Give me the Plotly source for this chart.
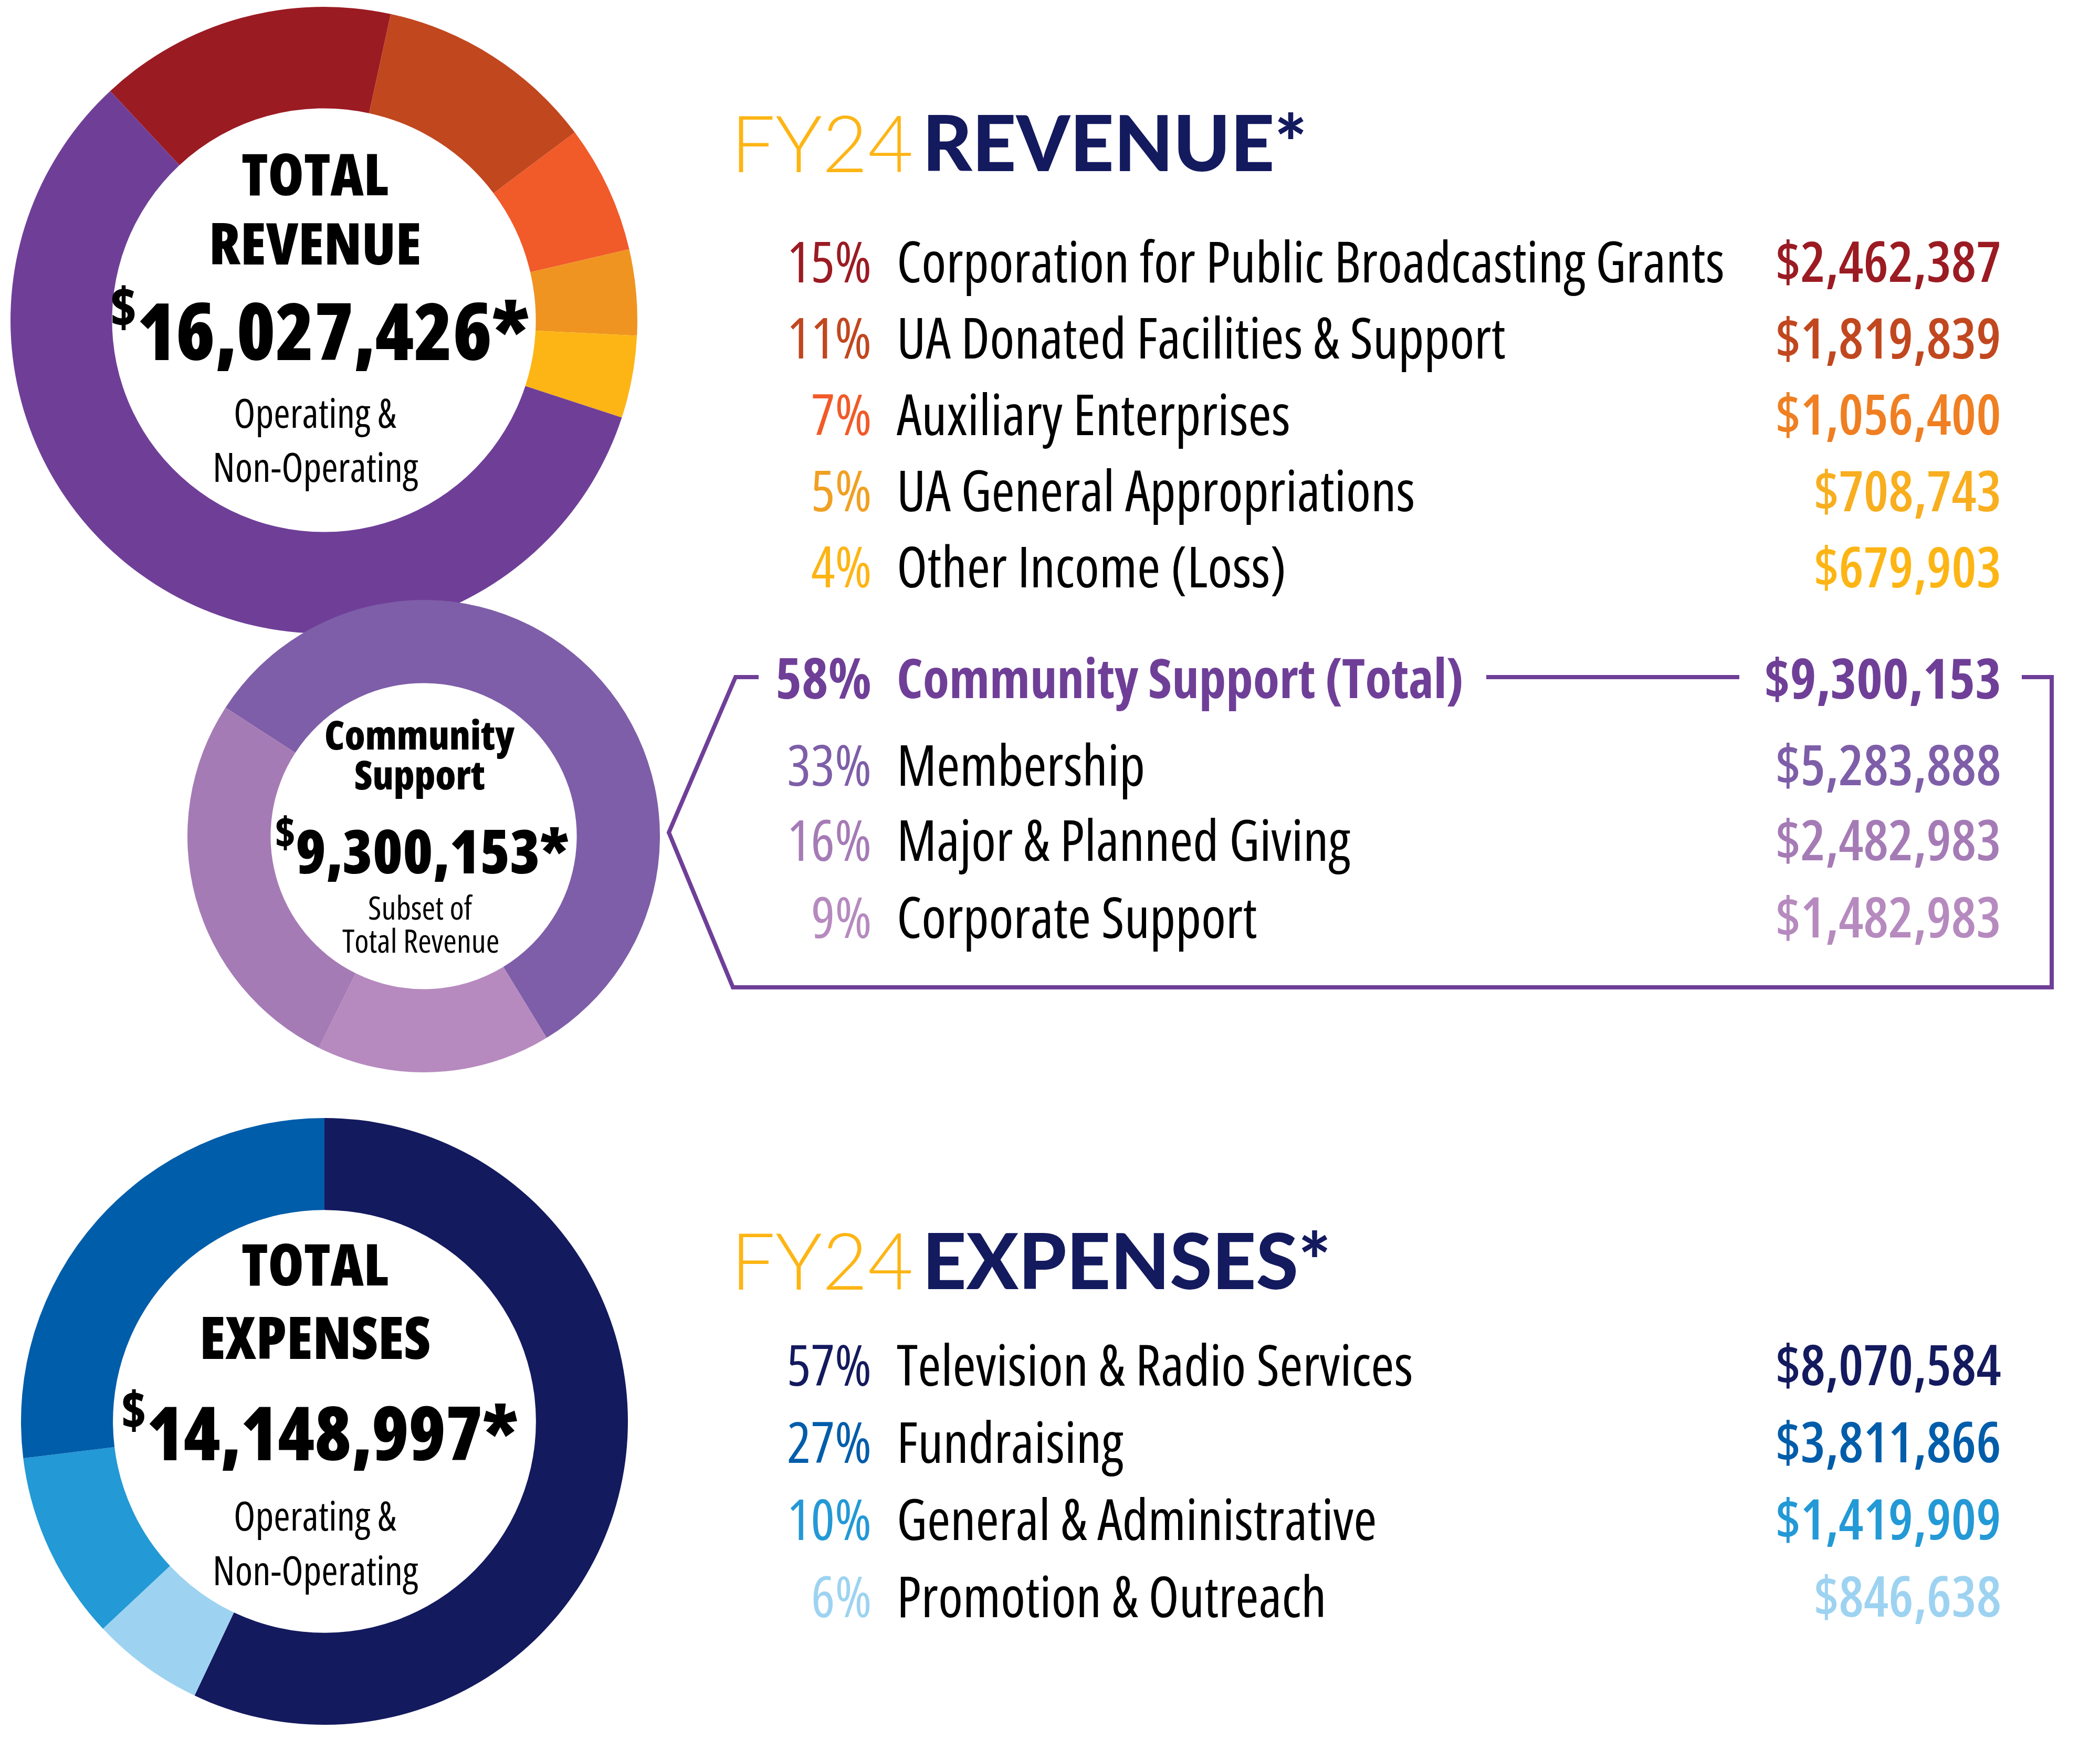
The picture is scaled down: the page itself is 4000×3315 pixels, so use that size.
import plotly.graph_objects as go

W, H = 4000, 3315

# ---------------- data ----------------
rev_labels = ["Corporation for Public Broadcasting Grants", "UA Donated Facilities & Support",
              "Auxiliary Enterprises", "UA General Appropriations", "Other Income (Loss)"]
rev_values = [2462387, 1819839, 1056400, 708743, 679903]
rev_pct = ["15%", "11%", "7%", "5%", "4%"]

community_label = "Community Support (Total)"
community_value = 9300153
community_pct = "58%"

comm_labels = ["Membership", "Major & Planned Giving", "Corporate Support"]
comm_values = [5283888, 2482983, 1482983]
comm_pct = ["33%", "16%", "9%"]

exp_labels = ["Television & Radio Services", "Fundraising", "General & Administrative", "Promotion & Outreach"]
exp_values = [8070584, 3811866, 1419909, 846638]
exp_pct = ["57%", "27%", "10%", "6%"]

total_revenue = 16027426
total_expenses = 14148997

# ---------------- styles ----------------
rev_colors = ["#9B1B23", "#C1471F", "#F15A29", "#EF9421", "#FDB515"]
rev_pct_colors = ["#9B1B23", "#C1471F", "#F15A29", "#F0A023", "#FDB515"]
rev_val_colors = ["#9B1B23", "#C1471F", "#EF7F22", "#F8AE1E", "#FDB515"]
community_color = "#6F3F98"
comm_colors = ["#7E5EA8", "#A57BB6", "#B68ABF"]
exp_colors = ["#141A5E", "#005DAA", "#2399D6", "#9DD3F1"]
NAVY = "#141A5E"
YELLOW = "#FDB515"

COND = "Open Sans, sans-serif"
WIDE = "Lato, Open Sans, sans-serif"


def px(x):
    return x / W


def py(y):
    return 1 - y / H


def money(v):
    return "$" + format(v, ",")


def dom(cx, cy, r):
    return dict(x=[px(cx - r), px(cx + r)], y=[py(cy + r), py(cy - r)])


fig = go.Figure()

# Revenue donut
fig.add_trace(go.Pie(
    values=rev_values + [community_value],
    labels=rev_labels + [community_label],
    marker=dict(colors=rev_colors + [community_color], line=dict(width=0)),
    sort=False, direction="clockwise", rotation=-43, hole=0.676,
    textinfo="none", hoverinfo="skip", domain=dom(609, 602, 597), showlegend=False,
))

# Community donut (clockwise: Membership, Corporate, Major)
order_c = [0, 2, 1]
fig.add_trace(go.Pie(
    values=[comm_values[i] for i in order_c],
    labels=[comm_labels[i] for i in order_c],
    marker=dict(colors=[comm_colors[i] for i in order_c], line=dict(width=0)),
    sort=False, direction="clockwise", rotation=-57, hole=0.648,
    textinfo="none", hoverinfo="skip", domain=dom(799, 1585, 450), showlegend=False,
))

# Expense donut (clockwise: TV, Promotion, General, Fundraising)
order_e = [0, 3, 2, 1]
fig.add_trace(go.Pie(
    values=[exp_values[i] for i in order_e],
    labels=[exp_labels[i] for i in order_e],
    marker=dict(colors=[exp_colors[i] for i in order_e], line=dict(width=0)),
    sort=False, direction="clockwise", rotation=0, hole=0.697,
    textinfo="none", hoverinfo="skip", domain=dom(610, 2700, 578), showlegend=False,
))

ann = []


def cond(t):
    return f"<span style='font-stretch:75%'>{t}</span>"


def text(x, y, t, size, color="black", anchor="left", family=COND, weight=400, condensed=True):
    ann.append(dict(x=px(x), y=py(y), xref="paper", yref="paper",
                    text=cond(t) if condensed else t, showarrow=False,
                    xanchor=anchor, yanchor="middle",
                    font=dict(size=size, color=color, family=family, weight=weight)))


PCT_X, LAB_X, VAL_X = 1654, 1698, 3806
ROW = 107
VROW = 106

# Titles
text(1382, 262, "FY24", 150, YELLOW, family="Lato, Roboto, sans-serif", weight=300, condensed=False)
text(1747, 262, "REVENUE*", 146, NAVY, family=WIDE, weight=900, condensed=False)
text(1382, 2391, "FY24", 150, YELLOW, family="Lato, Roboto, sans-serif", weight=300, condensed=False)
text(1747, 2391, "EXPENSES*", 146, NAVY, family=WIDE, weight=900, condensed=False)

# Revenue rows
for i in range(len(rev_labels)):
    y = 488 + i * 145.5
    text(PCT_X, y, rev_pct[i], ROW, rev_pct_colors[i], "right", weight=500)
    text(LAB_X, y, rev_labels[i], ROW, "black", "left", weight=500)
    text(VAL_X, y, money(rev_values[i]), VROW, rev_val_colors[i], "right", weight=600)

# Community total row
text(PCT_X, 1282, community_pct, ROW, community_color, "right", weight=700)
text(LAB_X, 1282, community_label, 103, community_color, "left", weight=700)
text(VAL_X, 1282, money(community_value), VROW, community_color, "right", weight=700)

comm_rows = [1447, 1590, 1737]
for i in range(len(comm_labels)):
    y = comm_rows[i]
    text(PCT_X, y, comm_pct[i], ROW, comm_colors[i], "right", weight=500)
    text(LAB_X, y, comm_labels[i], ROW, "black", "left", weight=500)
    text(VAL_X, y, money(comm_values[i]), VROW, comm_colors[i], "right", weight=600)

# Expense rows
exp_rows = [2590, 2737, 2884, 3031]
for i in range(len(exp_labels)):
    y = exp_rows[i]
    text(PCT_X, y, exp_pct[i], ROW, exp_colors[i], "right", weight=500)
    text(LAB_X, y, exp_labels[i], ROW, "black", "left", weight=500)
    text(VAL_X, y, money(exp_values[i]), VROW, exp_colors[i], "right", weight=600)


def big_number(v):
    return "<sup>$</sup>" + format(v, ",") + "*"


# Donut centre texts
text(592, 321, "TOTAL", 110, anchor="center", weight=800)
text(592, 453, "REVENUE", 110, anchor="center", weight=800)
text(600, 612, big_number(total_revenue), 150, anchor="center", weight=800)
text(592, 777, "Operating &", 76, anchor="center")
text(592, 881, "Non-Operating", 76, anchor="center")

text(791, 1390, "Community", 76, anchor="center", weight=800)
text(791, 1466, "Support", 76, anchor="center", weight=800)
text(795, 1605, big_number(community_value), 116, anchor="center", weight=800)
text(793, 1720, "Subset of", 62, anchor="center")
text(793, 1783, "Total Revenue", 62, anchor="center")

text(592, 2398, "TOTAL", 110, anchor="center", weight=800)
text(592, 2537, "EXPENSES", 112, anchor="center", weight=800)
text(600, 2712, big_number(total_expenses), 142, anchor="center", weight=800)
text(592, 2878, "Operating &", 76, anchor="center")
text(592, 2982, "Non-Operating", 76, anchor="center")


def path(points):
    return "M " + " L ".join(f"{px(x)},{py(y)}" for x, y in points)


shapes = [
    dict(type="path", xref="paper", yref="paper",
         path=path([(1437, 1282), (1393, 1282), (1266, 1578), (1388, 1873), (3900, 1873), (3900, 1282), (3843, 1282)]),
         line=dict(color=community_color, width=8)),
    dict(type="line", xref="paper", yref="paper", x0=px(2823), x1=px(3305), y0=py(1282), y1=py(1282),
         line=dict(color=community_color, width=8)),
]

fig.update_layout(
    width=W, height=H, margin=dict(l=0, r=0, t=0, b=0),
    paper_bgcolor="white", plot_bgcolor="white",
    annotations=ann, shapes=shapes, showlegend=False,
)

fig.write_html("out.html")
